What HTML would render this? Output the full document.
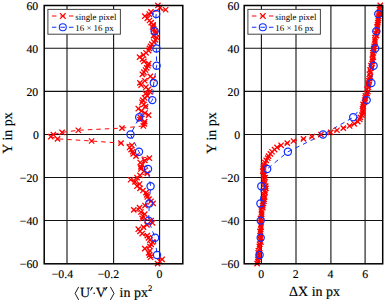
<!DOCTYPE html>
<html><head><meta charset="utf-8"><style>html,body{margin:0;padding:0;background:#fff;width:388px;height:302px;overflow:hidden}svg{display:block}</style></head>
<body><svg width="388" height="302" viewBox="0 0 388 302">
<style>
text{font-family:"Liberation Serif",serif;fill:#000;text-rendering:geometricPrecision;stroke:#000;stroke-width:0.15px}
.tk{font-size:11.8px}
.lb{font-size:14px}
.lg{font-size:8.9px;stroke:none}
</style>
<rect width="388" height="302" fill="#fff"/>
<clipPath id="cl"><rect x="44.2" y="5.5" width="138.60000000000002" height="258.3"/></clipPath><line x1="67.00" y1="5.5" x2="67.00" y2="263.8" stroke="#111" stroke-width="1.1"/><line x1="113.60" y1="5.5" x2="113.60" y2="263.8" stroke="#111" stroke-width="1.1"/><line x1="159.60" y1="5.5" x2="159.60" y2="263.8" stroke="#111" stroke-width="1.1"/><line x1="44.2" y1="48.30" x2="182.8" y2="48.30" stroke="#111" stroke-width="1.1"/><line x1="44.2" y1="91.40" x2="182.8" y2="91.40" stroke="#111" stroke-width="1.1"/><line x1="44.2" y1="134.57" x2="182.8" y2="134.57" stroke="#111" stroke-width="1.1"/><line x1="44.2" y1="177.57" x2="182.8" y2="177.57" stroke="#111" stroke-width="1.1"/><line x1="44.2" y1="220.57" x2="182.8" y2="220.57" stroke="#111" stroke-width="1.1"/><polyline points="157.90,5.45 160.00,7.60 165.60,9.75 151.00,11.90 149.30,14.05 144.80,16.21 147.30,18.36 149.50,20.51 151.20,22.66 153.10,24.81 152.50,26.97 153.80,29.12 155.00,31.27 155.70,33.42 153.50,35.57 157.00,37.72 155.50,39.88 153.80,42.03 151.80,44.18 150.50,46.33 149.50,48.48 148.60,50.63 146.00,52.79 143.50,54.94 139.60,57.09 142.50,59.24 143.90,61.39 148.70,63.54 147.90,65.70 146.70,67.85 145.50,70.00 143.90,72.15 142.30,74.30 150.30,76.45 153.00,78.61 144.70,80.76 139.90,82.91 141.10,85.06 145.90,87.21 148.30,89.36 149.80,91.52 145.50,93.67 147.50,95.82 144.70,97.97 142.70,100.12 141.90,102.27 143.90,104.43 145.50,106.58 138.30,108.73 141.50,110.88 145.00,113.03 148.60,115.18 140.30,117.34 139.90,119.49 144.70,121.64 144.30,123.79 143.30,125.94 122.00,128.09 78.30,130.25 62.10,132.40 53.30,134.55 50.80,136.70 57.50,138.85 91.60,141.01 121.00,143.16 131.90,145.31 129.60,147.46 131.10,149.61 132.70,151.76 133.20,153.92 136.00,156.07 149.40,158.22 144.80,160.37 140.20,162.52 142.20,164.67 140.90,166.83 140.90,168.98 144.00,171.13 147.30,173.28 140.00,175.43 137.00,177.58 130.60,179.74 135.00,181.89 139.60,184.04 137.00,186.19 140.00,188.34 143.00,190.49 146.00,192.65 146.70,194.80 147.30,196.95 149.00,199.10 151.00,201.25 153.10,203.40 145.00,205.56 139.60,207.71 133.80,209.86 140.90,212.01 144.80,214.16 143.00,216.31 142.20,218.47 151.20,220.62 152.50,222.77 147.00,224.92 143.50,227.07 138.30,229.22 140.00,231.38 142.20,233.53 147.30,235.68 148.50,237.83 149.90,239.98 152.50,242.13 151.20,244.29 149.90,246.44 144.80,248.59 149.90,250.74 148.60,252.89 149.50,255.05 150.50,257.20 162.10,259.35 160.00,261.50 157.60,263.65" fill="none" stroke="#ff0000" stroke-width="1" stroke-dasharray="4.5 4" clip-path="url(#cl)"/><polyline points="156.20,14.05 154.60,31.27 156.40,48.48 156.60,65.70 153.80,82.91 152.30,100.12 139.20,117.34 130.50,134.55 139.00,151.76 148.00,168.98 150.60,186.19 149.30,203.40 148.60,220.62 155.10,237.83 157.00,255.05" fill="none" stroke="#1030ff" stroke-width="1" stroke-dasharray="4.5 4" clip-path="url(#cl)"/><path d="M155.25 2.80L160.55 8.10M155.25 8.10L160.55 2.80M157.35 4.95L162.65 10.25M157.35 10.25L162.65 4.95M162.95 7.10L168.25 12.40M162.95 12.40L168.25 7.10M148.35 9.25L153.65 14.55M148.35 14.55L153.65 9.25M146.65 11.40L151.95 16.70M146.65 16.70L151.95 11.40M142.15 13.56L147.45 18.86M142.15 18.86L147.45 13.56M144.65 15.71L149.95 21.01M144.65 21.01L149.95 15.71M146.85 17.86L152.15 23.16M146.85 23.16L152.15 17.86M148.55 20.01L153.85 25.31M148.55 25.31L153.85 20.01M150.45 22.16L155.75 27.46M150.45 27.46L155.75 22.16M149.85 24.32L155.15 29.62M149.85 29.62L155.15 24.32M151.15 26.47L156.45 31.77M151.15 31.77L156.45 26.47M152.35 28.62L157.65 33.92M152.35 33.92L157.65 28.62M153.05 30.77L158.35 36.07M153.05 36.07L158.35 30.77M150.85 32.92L156.15 38.22M150.85 38.22L156.15 32.92M154.35 35.07L159.65 40.37M154.35 40.37L159.65 35.07M152.85 37.23L158.15 42.53M152.85 42.53L158.15 37.23M151.15 39.38L156.45 44.68M151.15 44.68L156.45 39.38M149.15 41.53L154.45 46.83M149.15 46.83L154.45 41.53M147.85 43.68L153.15 48.98M147.85 48.98L153.15 43.68M146.85 45.83L152.15 51.13M146.85 51.13L152.15 45.83M145.95 47.98L151.25 53.28M145.95 53.28L151.25 47.98M143.35 50.14L148.65 55.44M143.35 55.44L148.65 50.14M140.85 52.29L146.15 57.59M140.85 57.59L146.15 52.29M136.95 54.44L142.25 59.74M136.95 59.74L142.25 54.44M139.85 56.59L145.15 61.89M139.85 61.89L145.15 56.59M141.25 58.74L146.55 64.04M141.25 64.04L146.55 58.74M146.05 60.89L151.35 66.19M146.05 66.19L151.35 60.89M145.25 63.05L150.55 68.35M145.25 68.35L150.55 63.05M144.05 65.20L149.35 70.50M144.05 70.50L149.35 65.20M142.85 67.35L148.15 72.65M142.85 72.65L148.15 67.35M141.25 69.50L146.55 74.80M141.25 74.80L146.55 69.50M139.65 71.65L144.95 76.95M139.65 76.95L144.95 71.65M147.65 73.80L152.95 79.10M147.65 79.10L152.95 73.80M150.35 75.96L155.65 81.26M150.35 81.26L155.65 75.96M142.05 78.11L147.35 83.41M142.05 83.41L147.35 78.11M137.25 80.26L142.55 85.56M137.25 85.56L142.55 80.26M138.45 82.41L143.75 87.71M138.45 87.71L143.75 82.41M143.25 84.56L148.55 89.86M143.25 89.86L148.55 84.56M145.65 86.71L150.95 92.01M145.65 92.01L150.95 86.71M147.15 88.87L152.45 94.17M147.15 94.17L152.45 88.87M142.85 91.02L148.15 96.32M142.85 96.32L148.15 91.02M144.85 93.17L150.15 98.47M144.85 98.47L150.15 93.17M142.05 95.32L147.35 100.62M142.05 100.62L147.35 95.32M140.05 97.47L145.35 102.77M140.05 102.77L145.35 97.47M139.25 99.62L144.55 104.92M139.25 104.92L144.55 99.62M141.25 101.78L146.55 107.08M141.25 107.08L146.55 101.78M142.85 103.93L148.15 109.23M142.85 109.23L148.15 103.93M135.65 106.08L140.95 111.38M135.65 111.38L140.95 106.08M138.85 108.23L144.15 113.53M138.85 113.53L144.15 108.23M142.35 110.38L147.65 115.68M142.35 115.68L147.65 110.38M145.95 112.53L151.25 117.83M145.95 117.83L151.25 112.53M137.65 114.69L142.95 119.99M137.65 119.99L142.95 114.69M137.25 116.84L142.55 122.14M137.25 122.14L142.55 116.84M142.05 118.99L147.35 124.29M142.05 124.29L147.35 118.99M141.65 121.14L146.95 126.44M141.65 126.44L146.95 121.14M140.65 123.29L145.95 128.59M140.65 128.59L145.95 123.29M119.35 125.44L124.65 130.74M119.35 130.74L124.65 125.44M75.65 127.60L80.95 132.90M75.65 132.90L80.95 127.60M59.45 129.75L64.75 135.05M59.45 135.05L64.75 129.75M50.65 131.90L55.95 137.20M50.65 137.20L55.95 131.90M48.15 134.05L53.45 139.35M48.15 139.35L53.45 134.05M54.85 136.20L60.15 141.50M54.85 141.50L60.15 136.20M88.95 138.36L94.25 143.66M88.95 143.66L94.25 138.36M118.35 140.51L123.65 145.81M118.35 145.81L123.65 140.51M129.25 142.66L134.55 147.96M129.25 147.96L134.55 142.66M126.95 144.81L132.25 150.11M126.95 150.11L132.25 144.81M128.45 146.96L133.75 152.26M128.45 152.26L133.75 146.96M130.05 149.11L135.35 154.41M130.05 154.41L135.35 149.11M130.55 151.27L135.85 156.57M130.55 156.57L135.85 151.27M133.35 153.42L138.65 158.72M133.35 158.72L138.65 153.42M146.75 155.57L152.05 160.87M146.75 160.87L152.05 155.57M142.15 157.72L147.45 163.02M142.15 163.02L147.45 157.72M137.55 159.87L142.85 165.17M137.55 165.17L142.85 159.87M139.55 162.02L144.85 167.32M139.55 167.32L144.85 162.02M138.25 164.18L143.55 169.48M138.25 169.48L143.55 164.18M138.25 166.33L143.55 171.63M138.25 171.63L143.55 166.33M141.35 168.48L146.65 173.78M141.35 173.78L146.65 168.48M144.65 170.63L149.95 175.93M144.65 175.93L149.95 170.63M137.35 172.78L142.65 178.08M137.35 178.08L142.65 172.78M134.35 174.93L139.65 180.23M134.35 180.23L139.65 174.93M127.95 177.09L133.25 182.39M127.95 182.39L133.25 177.09M132.35 179.24L137.65 184.54M132.35 184.54L137.65 179.24M136.95 181.39L142.25 186.69M136.95 186.69L142.25 181.39M134.35 183.54L139.65 188.84M134.35 188.84L139.65 183.54M137.35 185.69L142.65 190.99M137.35 190.99L142.65 185.69M140.35 187.84L145.65 193.14M140.35 193.14L145.65 187.84M143.35 190.00L148.65 195.30M143.35 195.30L148.65 190.00M144.05 192.15L149.35 197.45M144.05 197.45L149.35 192.15M144.65 194.30L149.95 199.60M144.65 199.60L149.95 194.30M146.35 196.45L151.65 201.75M146.35 201.75L151.65 196.45M148.35 198.60L153.65 203.90M148.35 203.90L153.65 198.60M150.45 200.75L155.75 206.05M150.45 206.05L155.75 200.75M142.35 202.91L147.65 208.21M142.35 208.21L147.65 202.91M136.95 205.06L142.25 210.36M136.95 210.36L142.25 205.06M131.15 207.21L136.45 212.51M131.15 212.51L136.45 207.21M138.25 209.36L143.55 214.66M138.25 214.66L143.55 209.36M142.15 211.51L147.45 216.81M142.15 216.81L147.45 211.51M140.35 213.66L145.65 218.96M140.35 218.96L145.65 213.66M139.55 215.82L144.85 221.12M139.55 221.12L144.85 215.82M148.55 217.97L153.85 223.27M148.55 223.27L153.85 217.97M149.85 220.12L155.15 225.42M149.85 225.42L155.15 220.12M144.35 222.27L149.65 227.57M144.35 227.57L149.65 222.27M140.85 224.42L146.15 229.72M140.85 229.72L146.15 224.42M135.65 226.57L140.95 231.87M135.65 231.87L140.95 226.57M137.35 228.73L142.65 234.03M137.35 234.03L142.65 228.73M139.55 230.88L144.85 236.18M139.55 236.18L144.85 230.88M144.65 233.03L149.95 238.33M144.65 238.33L149.95 233.03M145.85 235.18L151.15 240.48M145.85 240.48L151.15 235.18M147.25 237.33L152.55 242.63M147.25 242.63L152.55 237.33M149.85 239.48L155.15 244.78M149.85 244.78L155.15 239.48M148.55 241.64L153.85 246.94M148.55 246.94L153.85 241.64M147.25 243.79L152.55 249.09M147.25 249.09L152.55 243.79M142.15 245.94L147.45 251.24M142.15 251.24L147.45 245.94M147.25 248.09L152.55 253.39M147.25 253.39L152.55 248.09M145.95 250.24L151.25 255.54M145.95 255.54L151.25 250.24M146.85 252.40L152.15 257.70M146.85 257.70L152.15 252.40M147.85 254.55L153.15 259.85M147.85 259.85L153.15 254.55M159.45 256.70L164.75 262.00M159.45 262.00L164.75 256.70M157.35 258.85L162.65 264.15M157.35 264.15L162.65 258.85M154.95 261.00L160.25 266.30M154.95 266.30L160.25 261.00" stroke="#ff0000" stroke-width="1.3" fill="none"/><circle cx="156.20" cy="14.05" r="3.6" stroke="#1030ff" stroke-width="1.25" fill="none"/><circle cx="154.60" cy="31.27" r="3.6" stroke="#1030ff" stroke-width="1.25" fill="none"/><circle cx="156.40" cy="48.48" r="3.6" stroke="#1030ff" stroke-width="1.25" fill="none"/><circle cx="156.60" cy="65.70" r="3.6" stroke="#1030ff" stroke-width="1.25" fill="none"/><circle cx="153.80" cy="82.91" r="3.6" stroke="#1030ff" stroke-width="1.25" fill="none"/><circle cx="152.30" cy="100.12" r="3.6" stroke="#1030ff" stroke-width="1.25" fill="none"/><circle cx="139.20" cy="117.34" r="3.6" stroke="#1030ff" stroke-width="1.25" fill="none"/><circle cx="130.50" cy="134.55" r="3.6" stroke="#1030ff" stroke-width="1.25" fill="none"/><circle cx="139.00" cy="151.76" r="3.6" stroke="#1030ff" stroke-width="1.25" fill="none"/><circle cx="148.00" cy="168.98" r="3.6" stroke="#1030ff" stroke-width="1.25" fill="none"/><circle cx="150.60" cy="186.19" r="3.6" stroke="#1030ff" stroke-width="1.25" fill="none"/><circle cx="149.30" cy="203.40" r="3.6" stroke="#1030ff" stroke-width="1.25" fill="none"/><circle cx="148.60" cy="220.62" r="3.6" stroke="#1030ff" stroke-width="1.25" fill="none"/><circle cx="155.10" cy="237.83" r="3.6" stroke="#1030ff" stroke-width="1.25" fill="none"/><circle cx="157.00" cy="255.05" r="3.6" stroke="#1030ff" stroke-width="1.25" fill="none"/><rect x="44.2" y="5.5" width="138.60" height="258.30" fill="none" stroke="#000" stroke-width="1.5"/><text x="38.2" y="9.75" text-anchor="end" class="tk">60</text><text x="38.2" y="52.78" text-anchor="end" class="tk">40</text><text x="38.2" y="95.82" text-anchor="end" class="tk">20</text><text x="38.9" y="138.85" text-anchor="end" class="tk">0</text><text x="38.2" y="181.88" text-anchor="end" class="tk">−20</text><text x="38.2" y="224.92" text-anchor="end" class="tk">−40</text><text x="38.2" y="267.95" text-anchor="end" class="tk">−60</text><text x="51.7" y="277.6" text-anchor="start" class="tk">−0.4</text><text x="97.7" y="277.6" text-anchor="start" class="tk">−0.2</text><text x="159.5" y="277.6" text-anchor="middle" class="tk">0</text><path d="M78.7 286.9L75.1 293.4L78.7 299.9M110.4 286.9L114.0 293.4L110.4 299.9" stroke="#000" stroke-width="0.9" fill="none" stroke-linejoin="miter"/><text x="80.1" y="297.3" class="lb">U</text><path d="M91.7 287.0L93.0 287.3L90.6 290.8L90.0 290.6Z M106.3 287.0L107.6 287.3L105.2 290.8L104.6 290.6Z" fill="#000"/><circle cx="94.2" cy="293.3" r="0.8" fill="#000"/><text x="95.8" y="297.3" class="lb">V</text><text x="119.6" y="297.3" class="lb">in px</text><text x="148.1" y="291.3" class="lb" style="font-size:8.6px">2</text><text transform="translate(11.9,132.9) rotate(-90)" text-anchor="middle" class="lb">Y in px</text><clipPath id="cr"><rect x="244.2" y="5.5" width="138.5" height="258.3"/></clipPath><line x1="261.40" y1="5.5" x2="261.40" y2="263.8" stroke="#111" stroke-width="1.1"/><line x1="296.00" y1="5.5" x2="296.00" y2="263.8" stroke="#111" stroke-width="1.1"/><line x1="330.90" y1="5.5" x2="330.90" y2="263.8" stroke="#111" stroke-width="1.1"/><line x1="365.10" y1="5.5" x2="365.10" y2="263.8" stroke="#111" stroke-width="1.1"/><line x1="244.2" y1="48.30" x2="382.7" y2="48.30" stroke="#111" stroke-width="1.1"/><line x1="244.2" y1="91.40" x2="382.7" y2="91.40" stroke="#111" stroke-width="1.1"/><line x1="244.2" y1="134.57" x2="382.7" y2="134.57" stroke="#111" stroke-width="1.1"/><line x1="244.2" y1="177.57" x2="382.7" y2="177.57" stroke="#111" stroke-width="1.1"/><line x1="244.2" y1="220.57" x2="382.7" y2="220.57" stroke="#111" stroke-width="1.1"/><polyline points="380.31,5.45 379.62,7.60 379.45,9.75 379.78,11.90 379.05,14.05 378.68,16.21 378.45,18.36 378.24,20.51 377.79,22.66 377.42,24.81 377.03,26.97 377.44,29.12 377.20,31.27 375.98,33.42 376.43,35.57 374.96,37.72 374.86,39.88 375.23,42.03 374.69,44.18 374.14,46.33 373.64,48.48 374.02,50.63 372.87,52.79 372.77,54.94 373.32,57.09 372.21,59.24 372.55,61.39 372.09,63.54 371.00,65.70 371.23,67.85 369.96,70.00 370.44,72.15 369.32,74.30 370.16,76.45 369.70,78.61 368.71,80.76 368.15,82.91 368.15,85.06 368.34,87.21 366.98,89.36 367.89,91.52 367.13,93.67 365.46,95.82 365.20,97.97 364.85,100.12 364.46,102.27 363.10,104.43 363.30,106.58 362.60,108.73 362.82,110.88 362.65,113.03 361.90,115.18 360.33,117.34 359.74,119.49 357.80,121.64 354.20,123.79 349.60,125.94 343.30,128.09 337.00,130.25 330.70,132.40 321.00,134.55 312.00,136.70 303.50,138.85 293.50,141.01 287.30,143.16 281.10,145.31 277.00,147.46 274.59,149.61 272.00,151.76 270.40,153.92 268.55,156.07 267.77,158.22 266.22,160.37 264.92,162.52 263.99,164.67 263.44,166.83 263.31,168.98 262.72,171.13 263.68,173.28 263.91,175.43 265.15,177.58 264.26,179.74 264.31,181.89 264.42,184.04 265.67,186.19 265.91,188.34 264.92,190.49 265.12,192.65 264.25,194.80 264.69,196.95 264.10,199.10 263.97,201.25 263.39,203.40 262.68,205.56 262.87,207.71 261.34,209.86 261.50,212.01 261.69,214.16 261.70,216.31 260.51,218.47 261.14,220.62 261.16,222.77 260.77,224.92 261.18,227.07 260.77,229.22 260.01,231.38 260.63,233.53 260.35,235.68 260.79,237.83 260.22,239.98 260.89,242.13 259.55,244.29 259.30,246.44 259.83,248.59 258.40,250.74 258.19,252.89 258.72,255.05 258.43,257.20 257.84,259.35 257.82,261.50 257.13,263.65" fill="none" stroke="#ff0000" stroke-width="1" stroke-dasharray="4.5 4" clip-path="url(#cr)"/><polyline points="378.30,14.05 376.30,31.27 375.20,48.48 373.60,65.70 371.40,82.91 366.70,100.12 353.20,117.34 323.00,134.55 287.90,151.76 267.20,168.98 261.30,186.19 260.40,203.40 260.70,220.62 260.70,237.83 259.60,255.05" fill="none" stroke="#1030ff" stroke-width="1" stroke-dasharray="4.5 4" clip-path="url(#cr)"/><path d="M377.66 2.80L382.96 8.10M377.66 8.10L382.96 2.80M376.97 4.95L382.27 10.25M376.97 10.25L382.27 4.95M376.80 7.10L382.10 12.40M376.80 12.40L382.10 7.10M377.13 9.25L382.43 14.55M377.13 14.55L382.43 9.25M376.40 11.40L381.70 16.70M376.40 16.70L381.70 11.40M376.03 13.56L381.33 18.86M376.03 18.86L381.33 13.56M375.80 15.71L381.10 21.01M375.80 21.01L381.10 15.71M375.59 17.86L380.89 23.16M375.59 23.16L380.89 17.86M375.14 20.01L380.44 25.31M375.14 25.31L380.44 20.01M374.77 22.16L380.07 27.46M374.77 27.46L380.07 22.16M374.38 24.32L379.68 29.62M374.38 29.62L379.68 24.32M374.79 26.47L380.09 31.77M374.79 31.77L380.09 26.47M374.55 28.62L379.85 33.92M374.55 33.92L379.85 28.62M373.33 30.77L378.63 36.07M373.33 36.07L378.63 30.77M373.78 32.92L379.08 38.22M373.78 38.22L379.08 32.92M372.31 35.07L377.61 40.37M372.31 40.37L377.61 35.07M372.21 37.23L377.51 42.53M372.21 42.53L377.51 37.23M372.58 39.38L377.88 44.68M372.58 44.68L377.88 39.38M372.04 41.53L377.34 46.83M372.04 46.83L377.34 41.53M371.49 43.68L376.79 48.98M371.49 48.98L376.79 43.68M370.99 45.83L376.29 51.13M370.99 51.13L376.29 45.83M371.37 47.98L376.67 53.28M371.37 53.28L376.67 47.98M370.22 50.14L375.52 55.44M370.22 55.44L375.52 50.14M370.12 52.29L375.42 57.59M370.12 57.59L375.42 52.29M370.67 54.44L375.97 59.74M370.67 59.74L375.97 54.44M369.56 56.59L374.86 61.89M369.56 61.89L374.86 56.59M369.90 58.74L375.20 64.04M369.90 64.04L375.20 58.74M369.44 60.89L374.74 66.19M369.44 66.19L374.74 60.89M368.35 63.05L373.65 68.35M368.35 68.35L373.65 63.05M368.58 65.20L373.88 70.50M368.58 70.50L373.88 65.20M367.31 67.35L372.61 72.65M367.31 72.65L372.61 67.35M367.79 69.50L373.09 74.80M367.79 74.80L373.09 69.50M366.67 71.65L371.97 76.95M366.67 76.95L371.97 71.65M367.51 73.80L372.81 79.10M367.51 79.10L372.81 73.80M367.05 75.96L372.35 81.26M367.05 81.26L372.35 75.96M366.06 78.11L371.36 83.41M366.06 83.41L371.36 78.11M365.50 80.26L370.80 85.56M365.50 85.56L370.80 80.26M365.50 82.41L370.80 87.71M365.50 87.71L370.80 82.41M365.69 84.56L370.99 89.86M365.69 89.86L370.99 84.56M364.33 86.71L369.63 92.01M364.33 92.01L369.63 86.71M365.24 88.87L370.54 94.17M365.24 94.17L370.54 88.87M364.48 91.02L369.78 96.32M364.48 96.32L369.78 91.02M362.81 93.17L368.11 98.47M362.81 98.47L368.11 93.17M362.55 95.32L367.85 100.62M362.55 100.62L367.85 95.32M362.20 97.47L367.50 102.77M362.20 102.77L367.50 97.47M361.81 99.62L367.11 104.92M361.81 104.92L367.11 99.62M360.45 101.78L365.75 107.08M360.45 107.08L365.75 101.78M360.65 103.93L365.95 109.23M360.65 109.23L365.95 103.93M359.95 106.08L365.25 111.38M359.95 111.38L365.25 106.08M360.17 108.23L365.47 113.53M360.17 113.53L365.47 108.23M360.00 110.38L365.30 115.68M360.00 115.68L365.30 110.38M359.25 112.53L364.55 117.83M359.25 117.83L364.55 112.53M357.68 114.69L362.98 119.99M357.68 119.99L362.98 114.69M357.09 116.84L362.39 122.14M357.09 122.14L362.39 116.84M355.15 118.99L360.45 124.29M355.15 124.29L360.45 118.99M351.55 121.14L356.85 126.44M351.55 126.44L356.85 121.14M346.95 123.29L352.25 128.59M346.95 128.59L352.25 123.29M340.65 125.44L345.95 130.74M340.65 130.74L345.95 125.44M334.35 127.60L339.65 132.90M334.35 132.90L339.65 127.60M328.05 129.75L333.35 135.05M328.05 135.05L333.35 129.75M318.35 131.90L323.65 137.20M318.35 137.20L323.65 131.90M309.35 134.05L314.65 139.35M309.35 139.35L314.65 134.05M300.85 136.20L306.15 141.50M300.85 141.50L306.15 136.20M290.85 138.36L296.15 143.66M290.85 143.66L296.15 138.36M284.65 140.51L289.95 145.81M284.65 145.81L289.95 140.51M278.45 142.66L283.75 147.96M278.45 147.96L283.75 142.66M274.35 144.81L279.65 150.11M274.35 150.11L279.65 144.81M271.94 146.96L277.24 152.26M271.94 152.26L277.24 146.96M269.35 149.11L274.65 154.41M269.35 154.41L274.65 149.11M267.75 151.27L273.05 156.57M267.75 156.57L273.05 151.27M265.90 153.42L271.20 158.72M265.90 158.72L271.20 153.42M265.12 155.57L270.42 160.87M265.12 160.87L270.42 155.57M263.57 157.72L268.87 163.02M263.57 163.02L268.87 157.72M262.27 159.87L267.57 165.17M262.27 165.17L267.57 159.87M261.34 162.02L266.64 167.32M261.34 167.32L266.64 162.02M260.79 164.18L266.09 169.48M260.79 169.48L266.09 164.18M260.66 166.33L265.96 171.63M260.66 171.63L265.96 166.33M260.07 168.48L265.37 173.78M260.07 173.78L265.37 168.48M261.03 170.63L266.33 175.93M261.03 175.93L266.33 170.63M261.26 172.78L266.56 178.08M261.26 178.08L266.56 172.78M262.50 174.93L267.80 180.23M262.50 180.23L267.80 174.93M261.61 177.09L266.91 182.39M261.61 182.39L266.91 177.09M261.66 179.24L266.96 184.54M261.66 184.54L266.96 179.24M261.77 181.39L267.07 186.69M261.77 186.69L267.07 181.39M263.02 183.54L268.32 188.84M263.02 188.84L268.32 183.54M263.26 185.69L268.56 190.99M263.26 190.99L268.56 185.69M262.27 187.84L267.57 193.14M262.27 193.14L267.57 187.84M262.47 190.00L267.77 195.30M262.47 195.30L267.77 190.00M261.60 192.15L266.90 197.45M261.60 197.45L266.90 192.15M262.04 194.30L267.34 199.60M262.04 199.60L267.34 194.30M261.45 196.45L266.75 201.75M261.45 201.75L266.75 196.45M261.32 198.60L266.62 203.90M261.32 203.90L266.62 198.60M260.74 200.75L266.04 206.05M260.74 206.05L266.04 200.75M260.03 202.91L265.33 208.21M260.03 208.21L265.33 202.91M260.22 205.06L265.52 210.36M260.22 210.36L265.52 205.06M258.69 207.21L263.99 212.51M258.69 212.51L263.99 207.21M258.85 209.36L264.15 214.66M258.85 214.66L264.15 209.36M259.04 211.51L264.34 216.81M259.04 216.81L264.34 211.51M259.05 213.66L264.35 218.96M259.05 218.96L264.35 213.66M257.86 215.82L263.16 221.12M257.86 221.12L263.16 215.82M258.49 217.97L263.79 223.27M258.49 223.27L263.79 217.97M258.51 220.12L263.81 225.42M258.51 225.42L263.81 220.12M258.12 222.27L263.42 227.57M258.12 227.57L263.42 222.27M258.53 224.42L263.83 229.72M258.53 229.72L263.83 224.42M258.12 226.57L263.42 231.87M258.12 231.87L263.42 226.57M257.36 228.73L262.66 234.03M257.36 234.03L262.66 228.73M257.98 230.88L263.28 236.18M257.98 236.18L263.28 230.88M257.70 233.03L263.00 238.33M257.70 238.33L263.00 233.03M258.14 235.18L263.44 240.48M258.14 240.48L263.44 235.18M257.57 237.33L262.87 242.63M257.57 242.63L262.87 237.33M258.24 239.48L263.54 244.78M258.24 244.78L263.54 239.48M256.90 241.64L262.20 246.94M256.90 246.94L262.20 241.64M256.65 243.79L261.95 249.09M256.65 249.09L261.95 243.79M257.18 245.94L262.48 251.24M257.18 251.24L262.48 245.94M255.75 248.09L261.05 253.39M255.75 253.39L261.05 248.09M255.54 250.24L260.84 255.54M255.54 255.54L260.84 250.24M256.07 252.40L261.37 257.70M256.07 257.70L261.37 252.40M255.78 254.55L261.08 259.85M255.78 259.85L261.08 254.55M255.19 256.70L260.49 262.00M255.19 262.00L260.49 256.70M255.17 258.85L260.47 264.15M255.17 264.15L260.47 258.85M254.48 261.00L259.78 266.30M254.48 266.30L259.78 261.00" stroke="#ff0000" stroke-width="1.3" fill="none"/><circle cx="378.30" cy="14.05" r="3.6" stroke="#1030ff" stroke-width="1.25" fill="none"/><circle cx="376.30" cy="31.27" r="3.6" stroke="#1030ff" stroke-width="1.25" fill="none"/><circle cx="375.20" cy="48.48" r="3.6" stroke="#1030ff" stroke-width="1.25" fill="none"/><circle cx="373.60" cy="65.70" r="3.6" stroke="#1030ff" stroke-width="1.25" fill="none"/><circle cx="371.40" cy="82.91" r="3.6" stroke="#1030ff" stroke-width="1.25" fill="none"/><circle cx="366.70" cy="100.12" r="3.6" stroke="#1030ff" stroke-width="1.25" fill="none"/><circle cx="353.20" cy="117.34" r="3.6" stroke="#1030ff" stroke-width="1.25" fill="none"/><circle cx="323.00" cy="134.55" r="3.6" stroke="#1030ff" stroke-width="1.25" fill="none"/><circle cx="287.90" cy="151.76" r="3.6" stroke="#1030ff" stroke-width="1.25" fill="none"/><circle cx="267.20" cy="168.98" r="3.6" stroke="#1030ff" stroke-width="1.25" fill="none"/><circle cx="261.30" cy="186.19" r="3.6" stroke="#1030ff" stroke-width="1.25" fill="none"/><circle cx="260.40" cy="203.40" r="3.6" stroke="#1030ff" stroke-width="1.25" fill="none"/><circle cx="260.70" cy="220.62" r="3.6" stroke="#1030ff" stroke-width="1.25" fill="none"/><circle cx="260.70" cy="237.83" r="3.6" stroke="#1030ff" stroke-width="1.25" fill="none"/><circle cx="259.60" cy="255.05" r="3.6" stroke="#1030ff" stroke-width="1.25" fill="none"/><rect x="244.2" y="5.5" width="138.50" height="258.30" fill="none" stroke="#000" stroke-width="1.5"/><text x="239.4" y="9.75" text-anchor="end" class="tk">60</text><text x="239.4" y="52.78" text-anchor="end" class="tk">40</text><text x="239.4" y="95.82" text-anchor="end" class="tk">20</text><text x="240.1" y="138.85" text-anchor="end" class="tk">0</text><text x="239.4" y="181.88" text-anchor="end" class="tk">−20</text><text x="239.4" y="224.92" text-anchor="end" class="tk">−40</text><text x="239.4" y="267.95" text-anchor="end" class="tk">−60</text><text x="261.2" y="277.6" text-anchor="middle" class="tk">0</text><text x="295.8" y="277.6" text-anchor="middle" class="tk">2</text><text x="330.4" y="277.6" text-anchor="middle" class="tk">4</text><text x="365.1" y="277.6" text-anchor="middle" class="tk">6</text><text x="314.6" y="296" text-anchor="middle" class="lb">ΔX in px</text><text transform="translate(215.9,132.9) rotate(-90)" text-anchor="middle" class="lb">Y in px</text><rect x="47.9" y="9.4" width="72.5" height="24.8" fill="#fff" stroke="#444" stroke-width="1"/><line x1="51.9" y1="16.0" x2="74.3" y2="16.0" stroke="#ff0000" stroke-width="1.1" stroke-dasharray="4.5 4"/><path d="M60.00000000000001 13.2L65.60000000000001 18.8M60.00000000000001 18.8L65.60000000000001 13.2" stroke="#ff0000" stroke-width="1.2"/><line x1="51.9" y1="27.3" x2="74.3" y2="27.3" stroke="#1030ff" stroke-width="1.1" stroke-dasharray="4.5 4"/><circle cx="62.800000000000004" cy="27.3" r="3.5" stroke="#1030ff" stroke-width="1.1" fill="none"/><text x="75.3" y="19.7" class="lg">single pixel</text><text x="75.3" y="30.9" class="lg">16 × 16 px</text><rect x="247.9" y="9.4" width="72.5" height="24.8" fill="#fff" stroke="#444" stroke-width="1"/><line x1="251.9" y1="16.0" x2="274.3" y2="16.0" stroke="#ff0000" stroke-width="1.1" stroke-dasharray="4.5 4"/><path d="M260.0 13.2L265.6 18.8M260.0 18.8L265.6 13.2" stroke="#ff0000" stroke-width="1.2"/><line x1="251.9" y1="27.3" x2="274.3" y2="27.3" stroke="#1030ff" stroke-width="1.1" stroke-dasharray="4.5 4"/><circle cx="262.8" cy="27.3" r="3.5" stroke="#1030ff" stroke-width="1.1" fill="none"/><text x="275.3" y="19.7" class="lg">single pixel</text><text x="275.3" y="30.9" class="lg">16 × 16 px</text>
</svg></body></html>
